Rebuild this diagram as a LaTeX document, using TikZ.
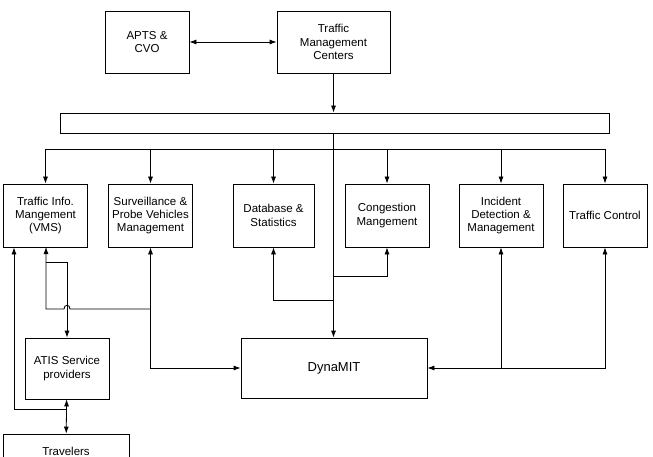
\documentclass[tikz,border=0pt]{standalone}
\usepackage{fontspec}
\setmainfont{Liberation Sans}
\usetikzlibrary{arrows.meta}

\begin{document}
\begin{tikzpicture}[x=1pt,y=-1pt,>={Latex[length=7pt,width=5pt]},line width=0.8pt]
  \tikzstyle{blk}=[draw,rectangle,align=center,inner sep=2pt,font=\fontsize{11.5}{13.3}\selectfont]
  \tikzstyle{blk6}=[blk,minimum width=84pt,minimum height=63pt]
  \useasboundingbox (0,0) rectangle (653,457);
  % top row
  \node[blk,minimum width=84pt,minimum height=62pt] (apts) at (147,42) {APTS \&\\CVO};
  \node[blk,minimum width=113pt,minimum height=62pt] (tmc) at (333.5,42) {Traffic\\Management\\Centers};
  \node[draw,minimum width=549pt,minimum height=20pt,inner sep=0pt] (bar) at (334.5,123) {};
  % middle row
  \node[blk6] (tim) at (45.5,215.5) {Traffic Info.\\Mangement\\(VMS)};
  \node[blk6] (spv) at (150.5,215.5) {Surveillance \&\\Probe Vehicles\\Management};
  \node[blk6,minimum width=81pt] (dbs) at (273.5,215.5) {Database \&\\Statistics};
  \node[blk6] (cgm) at (387,215.5) {Congestion\\Mangement};
  \node[blk6] (idm) at (501,215.5) {Incident\\Detection \&\\Management};
  \node[blk6] (tc) at (605,215.5) {Traffic Control};
  % bottom row
  \node[blk,minimum width=186pt,minimum height=60pt,font=\fontsize{13}{15}\selectfont] (dyn) at (334,368) {DynaMIT};
  \node[blk,minimum width=84pt,minimum height=61pt] (atis) at (67,368.5) {ATIS Service\\providers};
  \node[blk,minimum width=126pt,minimum height=34pt] (trav) at (66,451) {Travelers};

  \draw[<->] (apts) -- (tmc);
  \draw[->] (tmc.south) -- (tmc.south |- bar.north);
  \draw[->] (tmc.south |- bar.south) -- (tmc.south |- dyn.north);
  \coordinate (dl) at (46,149);
  \draw (tim.north |- dl) -- (tc.north |- dl);
  \foreach \n in {tim,spv,dbs,cgm,idm,tc}
    \draw[->] (\n.north |- dl) -- (\n.north);
  % feedback into the spine
  \coordinate (jcg) at (333.5,276);
  \coordinate (jdb) at (333.5,300);
  \draw[->] (jcg) -| (cgm.south);
  \draw[->] (jdb) -| (dbs.south);
  % right side
  \draw[<->] (tc.south) |- (dyn.east);
  \draw[->] (idm.south |- dyn.east) -- (idm.south);
  % left side
  \draw[<->] (spv.south) |- (dyn.west);
  \coordinate (jl) at (150.5,309);
  \coordinate (jt) at (46,262);
  \draw[->] (jl) -- (70,309) .. controls (70,304) and (64,304) .. (64,309) -- (46,309) -- (46,247);
  \draw[->] (jt) -| (atis.north);
  \coordinate (ja) at (67,409);
  \coordinate (jx) at (14,409);
  \draw[->] (ja) -- (jx) -- (jx |- tim.south);
  \draw[<->] (atis) -- (trav);
\end{tikzpicture}
\end{document}
